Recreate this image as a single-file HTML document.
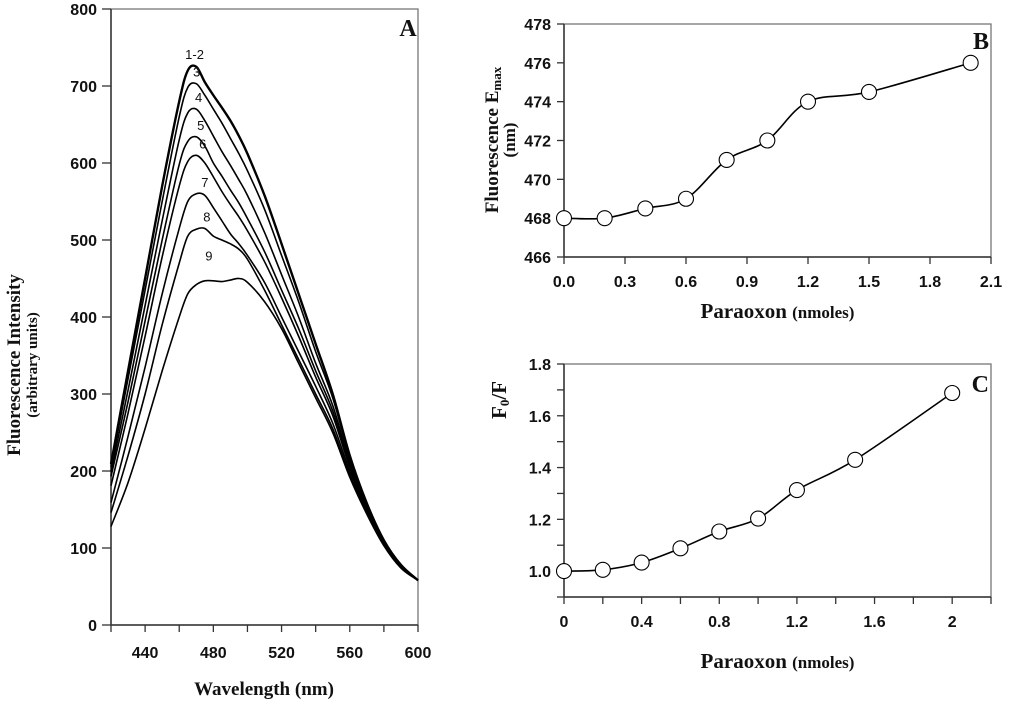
<!DOCTYPE html>
<html><head><meta charset="utf-8"><style>
html,body{margin:0;padding:0;background:#fff;}
svg{display:block;}
.tk{font-family:"Liberation Sans",Arial,sans-serif;font-weight:bold;font-size:16px;fill:#111;}
.tt{font-family:"Liberation Serif",serif;font-weight:bold;font-size:19px;fill:#111;}
.cl{font-family:"Liberation Sans",Arial,sans-serif;font-size:13px;fill:#111;}
</style></head><body>
<svg id="fig" width="1024" height="713" viewBox="0 0 1024 713" xmlns="http://www.w3.org/2000/svg">
<g id="pa"></g>
<g id="pb"></g>
<g id="pc"></g>
</svg>
<script>
// Panel A data
const wavelengths = [420,430,440,450,460,465,470,475,480,485,490,495,500,510,520,530,540,550,560,570,580,590,600];
const curveLabels = ["1-2","3","4","5","6","7","8","9"];
const c12 = [209,330,450,570,680,720,725,705,688,672,655,635,612,558,495,430,365,300,220,158,110,78,58];
const c3 = [205,320,435,550,660,698,703,688,670,652,632,612,590,540,480,420,355,295,217,156,109,77,58];
const c4 = [199,305,415,525,630,665,670,655,635,615,597,578,558,510,455,400,340,285,212,154,108,77,58];
const c5 = [193,290,395,500,598,628,634,622,600,583,565,548,528,485,435,385,330,278,208,152,107,76,58];
const c6 = [181,275,375,478,570,602,610,600,582,563,546,530,512,472,425,375,322,272,205,150,106,76,58];
const c7 = [159,245,335,430,515,550,560,558,542,525,508,495,480,445,400,355,310,262,200,148,105,75,58];
const c8 = [146,220,300,390,470,505,514,515,505,500,495,488,475,435,390,345,300,255,195,146,104,75,58];
const c9 = [128,185,255,330,400,430,442,447,447,446,448,450,445,420,385,340,295,250,192,144,103,74,58];
const aXTicks = [440,480,520,560,600];
const aYTicks = [0,100,200,300,400,500,600,700,800];
// Panel B data
const bX = [0,0.2,0.4,0.6,0.8,1.0,1.2,1.5,2.0];
const bY = [468,468,468.5,469,471,472,474,474.5,476];
const bXTicks = ["0.0","0.3","0.6","0.9","1.2","1.5","1.8","2.1"];
const bYTicks = [466,468,470,472,474,476,478];
// Panel C data
const cX = [0,0.2,0.4,0.6,0.8,1.0,1.2,1.5,2.0];
const cY = [1.0,1.005,1.033,1.088,1.153,1.203,1.313,1.43,1.688];
const cXTicks = ["0","0.4","0.8","1.2","1.6","2"];
const cYTicks = ["1.0","1.2","1.4","1.6","1.8"];

const NS="http://www.w3.org/2000/svg";
function mk(parent,tag,attrs,text){const e=document.createElementNS(NS,tag);for(const k in attrs)e.setAttribute(k,attrs[k]);if(text!==undefined)e.textContent=text;parent.appendChild(e);return e;}
function lin(d0,d1,r0,r1){return v=>r0+(v-d0)*(r1-r0)/(d1-d0);}
function smooth(pts){let d="M"+pts[0][0]+","+pts[0][1];for(let i=0;i<pts.length-1;i++){const p0=pts[i-1]||pts[i],p1=pts[i],p2=pts[i+1],p3=pts[i+2]||p2;const c1=[p1[0]+(p2[0]-p0[0])/6,p1[1]+(p2[1]-p0[1])/6],c2=[p2[0]-(p3[0]-p1[0])/6,p2[1]-(p3[1]-p1[1])/6];d+=" C"+c1[0]+","+c1[1]+" "+c2[0]+","+c2[1]+" "+p2[0]+","+p2[1];}return d;}

// ---------- Panel A ----------
(function(){
const g=document.getElementById('pa');
const L=111,R=418,T=9,B=625;
const x=lin(420,600,L,R), y=lin(0,800,B,T);
const frame=mk(g,'rect',{x:L,y:T,width:R-L,height:B-T,fill:'none',stroke:'#777','stroke-width':1.3});


mk(g,'line',{x1:L,y1:T,x2:L,y2:B,stroke:'#333','stroke-width':1.5});
mk(g,'line',{x1:L,y1:B,x2:R,y2:B,stroke:'#333','stroke-width':1.5});
for(let w=420;w<=600;w+=20){mk(g,'line',{x1:x(w),y1:B,x2:x(w),y2:B+7,stroke:'#333','stroke-width':1.3});}
aXTicks.forEach(t=>{const e=mk(g,'text',{x:x(t),y:B+33,'text-anchor':'middle',class:'tk'},t);

});
aYTicks.forEach(t=>{mk(g,'line',{x1:L-9,y1:y(t),x2:L,y2:y(t),stroke:'#333','stroke-width':1.3});
const e=mk(g,'text',{x:L-14,y:y(t)+6,'text-anchor':'end',class:'tk'},t);

});
const series=[c12,c3,c4,c5,c6,c7,c8,c9];
series.forEach((s,i)=>{const pts=wavelengths.map((w,j)=>[x(w),y(s[j])]);
const p=mk(g,'path',{d:smooth(pts),fill:'none',stroke:'#000','stroke-width':i===0?2.4:1.6});


let mx=Math.max(...s);
const lb=mk(g,'text',{x:x(469+i*1.2),y:y(mx)-(i===0?8:i===7?18:7),'text-anchor':'middle',class:'cl'},curveLabels[i]);

});
const A=mk(g,'text',{x:408,y:36,'text-anchor':'middle',class:'tt'},'A');
A.style.fontSize='24px';


const xt=mk(g,'text',{x:264,y:695,'text-anchor':'middle',class:'tt'},'Wavelength (nm)');


const yt=mk(g,'text',{x:0,y:0,'text-anchor':'middle',class:'tt',transform:'translate(20,365) rotate(-90)'},'Fluorescence Intensity');


const yt2=mk(g,'text',{x:0,y:0,'text-anchor':'middle',class:'tt',transform:'translate(37,365) rotate(-90)'},'(arbitrary units)');
yt2.style.fontSize='15px';


})();

// ---------- Panels B & C ----------
function scatterPanel(id,opt){
const g=document.getElementById(id);
const {L,R,T,B}=opt;
const x=lin(opt.x0,opt.x1,L,R), y=lin(opt.y0,opt.y1,B,T);
const fr=mk(g,'rect',{x:L,y:T,width:R-L,height:B-T,fill:'none',stroke:'#777','stroke-width':1.3});


mk(g,'line',{x1:L,y1:T,x2:L,y2:B,stroke:'#333','stroke-width':1.5});
mk(g,'line',{x1:L,y1:B,x2:R,y2:B,stroke:'#333','stroke-width':1.5});
opt.xMinor.forEach(v=>mk(g,'line',{x1:x(v),y1:B,x2:x(v),y2:B+7,stroke:'#333','stroke-width':1.3}));
opt.yMinor.forEach(v=>mk(g,'line',{x1:L-7,y1:y(v),x2:L,y2:y(v),stroke:'#333','stroke-width':1.3}));
opt.xTicks.forEach(t=>{const e=mk(g,'text',{x:x(parseFloat(t)),y:B+30,'text-anchor':'middle',class:'tk'},t);

});
opt.yTicks.forEach(t=>{const e=mk(g,'text',{x:L-13,y:y(parseFloat(t))+6,'text-anchor':'end',class:'tk'},t);

});
const pts=opt.xs.map((v,i)=>[x(v),y(opt.ys[i])]);
const ln=mk(g,'path',{d:smooth(pts),fill:'none',stroke:'#000','stroke-width':1.6});


pts.forEach(p=>{const c=mk(g,'circle',{cx:p[0],cy:p[1],r:7.5,fill:'#fff',stroke:'#000','stroke-width':1.1});

});
const pl=mk(g,'text',{x:R-2,y:T+opt.lblY,'text-anchor':'end',class:'tt'},opt.tag.toUpperCase());
pl.style.fontSize='24px';


const xt=mk(g,'text',{x:(L+R)/2,y:opt.xtY,'text-anchor':'middle',class:'tt'},'');
xt.style.fontSize='21px';
mk(xt,'tspan',{},'Paraoxon ');const sp=mk(xt,'tspan',{},'(nmoles)');sp.style.fontSize='17px';


return {g,x,y};
}
const pb=scatterPanel('pb',{tag:'b',L:564,R:991,T:24,B:257,x0:0,x1:2.1,y0:466,y1:478,
xs:bX,ys:bY,xTicks:bXTicks,yTicks:bYTicks,xMinor:[0,0.3,0.6,0.9,1.2,1.5,1.8,2.1],yMinor:[466,468,470,472,474,476,478],lblY:25,xtY:318});
(function(){const g=pb.g;
const t=mk(g,'text',{x:0,y:0,'text-anchor':'middle',class:'tt',transform:'translate(498,140) rotate(-90)'},'');
mk(t,'tspan',{},'Fluorescence E');const s=mk(t,'tspan',{dy:'3'},'max');s.style.fontSize='13px';


const u=mk(g,'text',{x:0,y:0,'text-anchor':'middle',class:'tt',transform:'translate(515,140) rotate(-90)'},'(nm)');
u.style.fontSize='17px';

})();
const pc=scatterPanel('pc',{tag:'c',L:564,R:991,T:364,B:597,x0:0,x1:2.2,y0:0.9,y1:1.8,
xs:cX,ys:cY,xTicks:cXTicks,yTicks:cYTicks,xMinor:[0,0.2,0.4,0.6,0.8,1.0,1.2,1.4,1.6,1.8,2.0,2.2],yMinor:[0.9,1.0,1.1,1.2,1.3,1.4,1.5,1.6,1.7,1.8],lblY:28,xtY:668});
(function(){const g=pc.g;
const t=mk(g,'text',{x:0,y:0,'text-anchor':'middle',class:'tt',transform:'translate(506,400) rotate(-90)'},'');
t.style.fontSize='21px';
mk(t,'tspan',{},'F');const s=mk(t,'tspan',{dy:'3'},'0');s.style.fontSize='13px';mk(t,'tspan',{dy:'-3'},'/F');

})();
</script>
</body></html>
